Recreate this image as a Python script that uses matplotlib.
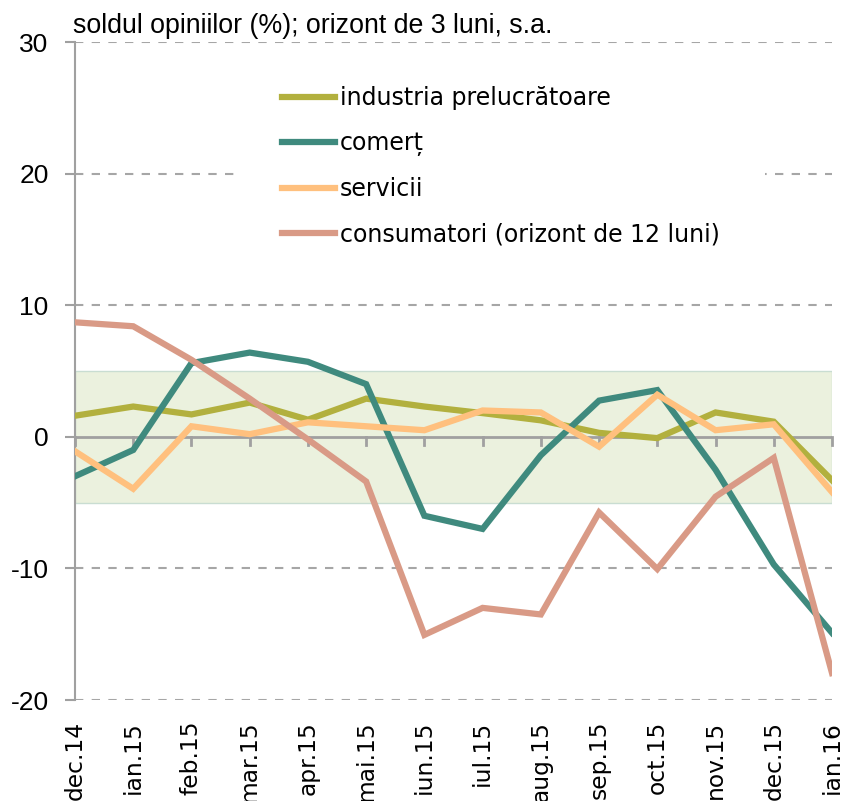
import matplotlib
matplotlib.use("Agg")
import matplotlib.pyplot as plt
from matplotlib.patches import Rectangle
import numpy as np

categories = ["dec.14", "ian.15", "feb.15", "mar.15", "apr.15", "mai.15", "iun.15",
              "iul.15", "aug.15", "sep.15", "oct.15", "nov.15", "dec.15", "ian.16"]
industria = [1.6, 2.3, 1.7, 2.6, 1.3, 2.9, 2.3, 1.8, 1.25, 0.3, -0.1, 1.85, 1.15, -3.3]
comert = [-3.0, -1.0, 5.6, 6.4, 5.7, 4.0, -6.0, -7.0, -1.4, 2.75, 3.55, -2.5, -9.7, -14.9]
servicii = [-1.1, -3.95, 0.8, 0.2, 1.1, 0.8, 0.5, 2.0, 1.85, -0.75, 3.2, 0.5, 0.95, -4.2]
consumatori = [8.7, 8.4, 5.85, 2.9, -0.2, -3.4, -15.05, -13.0, -13.5, -5.75, -10.05, -4.55, -1.6, -17.95]
labels = ["industria prelucrătoare", "comerț", "servicii", "consumatori (orizont de 12 luni)"]
colors = ["#B2B03E", "#3F8A7E", "#FFC07E", "#D99A86"]
yticks = [-20, -10, 0, 10, 20, 30]
band = (-5, 5)

plt.rcParams['font.family'] = ['Liberation Sans Narrow', 'Liberation Sans', 'DejaVu Sans']

W, H = 846, 801
fig = plt.figure(figsize=(W/100, H/100), dpi=100)
ax = fig.add_axes([75/W, 1-700/H, (832-75)/W, (700-42)/H])
x = np.arange(len(categories))

ax.axhspan(band[0], band[1], facecolor="#EBF1DE", edgecolor="#C9DDD2", lw=1, zorder=0)
for yv in yticks:
    if yv != 0:
        ax.axhline(yv, color="#A6A6A6", lw=1.5, ls=(0, (4, 4)), zorder=1)
ax.axhline(0, color="#A0A0A0", lw=2, zorder=2)

# white legend background (covers gridline behind legend)
ax.add_patch(Rectangle((238/W, 1-265/H), (765-238)/W, (265-60)/H,
                       transform=fig.transFigure, facecolor='white',
                       edgecolor='none', zorder=1.5))

for series, lab, c in zip([industria, comert, servicii, consumatori], labels, colors):
    ax.plot(x, series, color=c, lw=4.5, label=lab, zorder=3, solid_joinstyle='miter')

# zero-line tick marks
for xi in x:
    ax.plot([xi, xi], [0, -0.65], color="#A0A0A0", lw=2, zorder=2, clip_on=False)

ax.set_xlim(0, 13)
ax.set_ylim(-20, 30)
ax.set_yticks(yticks)
ax.set_yticklabels([str(v) for v in yticks], fontsize=19, family=['Liberation Sans'])
ax.set_xticks(x)
ax.set_xticklabels(categories, rotation=90, fontsize=16.8, family=['DejaVu Sans'])
ax.tick_params(axis='x', length=0, pad=15)
ax.tick_params(axis='y', length=7, color="#A0A0A0", width=1.5, pad=12)
for s in ['top', 'right', 'bottom']:
    ax.spines[s].set_visible(False)
ax.spines['left'].set_color("#A0A0A0")
ax.spines['left'].set_linewidth(1.5)
ax.set_facecolor('none')

ax.text(-0.04, 31.25, "soldul opiniilor (%); orizont de 3 luni, s.a.", fontsize=19.3,
        ha='left', va='center')

leg = ax.legend(loc='upper left', bbox_to_anchor=((282-75)/757, 1-(86-42)/658),
                frameon=False, fontsize=17, handlelength=2.25, handletextpad=0.2,
                labelspacing=0.9, borderpad=0, borderaxespad=0)
leg.set_zorder(5)
for t in leg.get_texts():
    t.set_family(['DejaVu Sans'])

fig.savefig("out.png", dpi=100)
